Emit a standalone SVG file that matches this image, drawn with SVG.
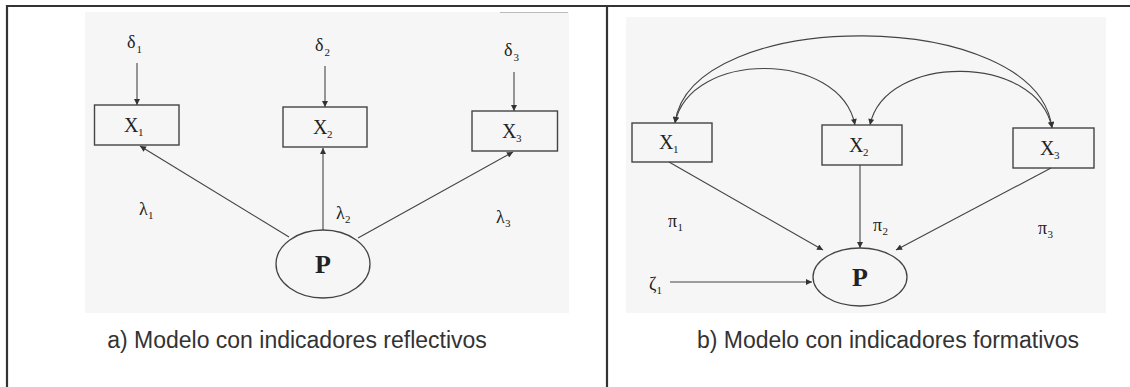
<svg xmlns="http://www.w3.org/2000/svg" width="1130" height="387" viewBox="0 0 1130 387">
  <defs>
    <marker id="ah" viewBox="0 0 10 10" refX="10" refY="5" markerWidth="8" markerHeight="6" markerUnits="userSpaceOnUse" orient="auto-start-reverse">
      <path d="M0,0 L10,5 L0,10 z" fill="#333"/>
    </marker>
    <style>
      .frame{stroke:#333;stroke-width:2.2;fill:none}
      .bg{fill:#f6f6f6}
      .box{fill:none;stroke:#444;stroke-width:1.4}
      .ell{fill:none;stroke:#444;stroke-width:1.3}
      .ln{fill:none;stroke:#444;stroke-width:1.1;marker-end:url(#ah)}
      .arc{fill:none;stroke:#444;stroke-width:1.1;marker-start:url(#ah);marker-end:url(#ah)}
      .sym{font-family:"Liberation Serif","DejaVu Serif",serif;font-size:20px;fill:#222}
      .sub{font-family:"Liberation Serif","DejaVu Serif",serif;font-size:11px;fill:#222}
      .greek{font-family:"Liberation Serif","DejaVu Serif",serif;font-size:18px;fill:#222}
      .P{font-family:"Liberation Serif","DejaVu Serif",serif;font-size:26px;font-weight:bold;fill:#222}
      .cap{font-family:"Liberation Sans",Arial,sans-serif;font-size:23px;fill:#333;text-anchor:middle}
    </style>
  </defs>

  <!-- panel backgrounds (scanned figures) -->
  <rect class="bg" x="85" y="12" width="484" height="301"/>
  <line x1="500" y1="12.5" x2="568" y2="12.5" stroke="#bbb" stroke-width="1"/>
  <rect class="bg" x="626" y="17" width="480" height="296"/>

  <!-- frame -->
  <g id="frame">
    <line class="frame" x1="7" y1="6" x2="1130" y2="6"/>
    <line class="frame" x1="7" y1="5" x2="7" y2="387"/>
    <line class="frame" x1="607" y1="5" x2="607" y2="387"/>
  </g>

  <!-- connectors -->
  <g id="connectors">
    <!-- left: reflective -->
    <line class="ln" x1="137" y1="63" x2="137" y2="105"/>
    <line class="ln" x1="325" y1="66" x2="325" y2="107"/>
    <line class="ln" x1="514" y1="72" x2="514" y2="111"/>
    <line class="ln" x1="289" y1="237" x2="140" y2="146"/>
    <line class="ln" x1="323" y1="230" x2="323" y2="148"/>
    <line class="ln" x1="358" y1="238" x2="513" y2="152"/>
    <!-- right: formative -->
    <path class="arc" d="M675,123 C690,6 1037,6 1052,128"/>
    <path class="arc" d="M675,123 C690,50 840,50 855,125"/>
    <path class="arc" d="M870,125 C885,53 1037,53 1052,128"/>
    <line class="ln" x1="669" y1="162" x2="823" y2="250"/>
    <line class="ln" x1="860" y1="165" x2="860" y2="248"/>
    <line class="ln" x1="1051" y1="168" x2="896" y2="250"/>
    <line class="ln" x1="670" y1="282" x2="812" y2="282"/>
  </g>

  <!-- left panel nodes -->
  <g id="a-d1"><text class="greek" x="127" y="48">δ</text><text class="sub" x="136.5" y="53">1</text></g>
  <g id="a-d2"><text class="greek" x="315" y="51">δ</text><text class="sub" x="324.5" y="56">2</text></g>
  <g id="a-d3"><text class="greek" x="504" y="56">δ</text><text class="sub" x="513.5" y="61">3</text></g>
  <g id="a-x1"><rect class="box" x="94.5" y="105" width="84.5" height="40"/><text class="sym" x="124" y="132">X</text><text class="sub" x="138" y="136">1</text></g>
  <g id="a-x2"><rect class="box" x="283" y="107" width="84" height="40"/><text class="sym" x="313" y="134">X</text><text class="sub" x="327" y="138">2</text></g>
  <g id="a-x3"><rect class="box" x="472" y="111" width="85.5" height="40"/><text class="sym" x="502" y="138">X</text><text class="sub" x="516" y="142">3</text></g>
  <g id="a-P"><ellipse class="ell" cx="323" cy="264" rx="47" ry="34"/><text class="P" x="323" y="273" text-anchor="middle">P</text></g>
  <g id="a-l1"><text class="greek" x="139" y="215">λ</text><text class="sub" x="148" y="219">1</text></g>
  <g id="a-l2"><text class="greek" x="336" y="219">λ</text><text class="sub" x="345" y="223">2</text></g>
  <g id="a-l3"><text class="greek" x="496" y="223">λ</text><text class="sub" x="505" y="227">3</text></g>
  <g id="a-cap"><text class="cap" x="297" y="348">a) Modelo con indicadores reflectivos</text></g>

  <!-- right panel nodes -->
  <g id="b-x1"><rect class="box" x="632" y="123" width="80" height="39"/><text class="sym" x="659" y="149">X</text><text class="sub" x="673" y="153">1</text></g>
  <g id="b-x2"><rect class="box" x="822" y="125" width="80" height="40"/><text class="sym" x="849" y="152">X</text><text class="sub" x="863" y="156">2</text></g>
  <g id="b-x3"><rect class="box" x="1013" y="128" width="81" height="40"/><text class="sym" x="1040" y="155">X</text><text class="sub" x="1054" y="159">3</text></g>
  <g id="b-P"><ellipse class="ell" cx="860" cy="277" rx="47" ry="29"/><text class="P" x="860" y="286" text-anchor="middle">P</text></g>
  <g id="b-p1"><text class="greek" x="668" y="227">π</text><text class="sub" x="677.5" y="231">1</text></g>
  <g id="b-p2"><text class="greek" x="873" y="231">π</text><text class="sub" x="882.5" y="235">2</text></g>
  <g id="b-p3"><text class="greek" x="1038" y="234">π</text><text class="sub" x="1047.5" y="238">3</text></g>
  <g id="b-z1"><text class="greek" x="649" y="290">ζ</text><text class="sub" x="656.5" y="294">1</text></g>
  <g id="b-cap"><text class="cap" x="888" y="348">b) Modelo con indicadores formativos</text></g>
</svg>
